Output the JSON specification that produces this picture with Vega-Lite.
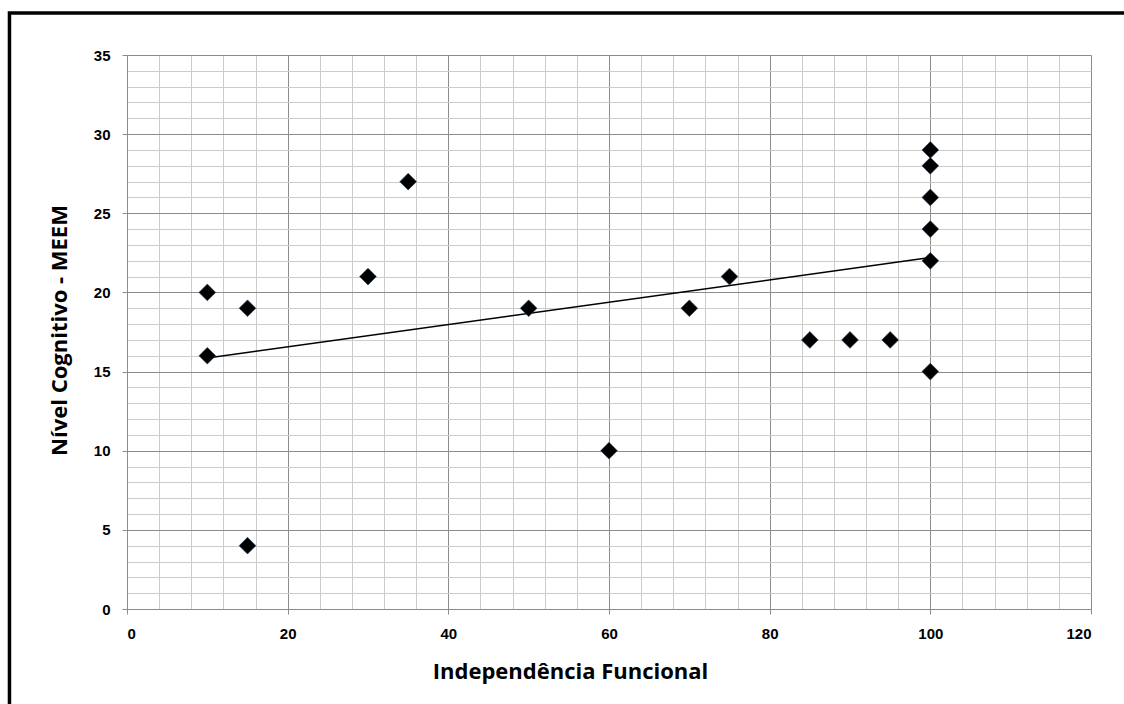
{
  "$schema": "https://vega.github.io/schema/vega-lite/v6.json",
  "width": 964,
  "height": 554,
  "autosize": "none",
  "padding": {"left": 127, "top": 55, "right": 33, "bottom": 95},
  "background": "white",
  "config": {"view": {"stroke": null}},
  "datasets": {
    "pts": [
      {"x": 10, "y": 20}, {"x": 10, "y": 16}, {"x": 15, "y": 19}, {"x": 15, "y": 4},
      {"x": 30, "y": 21}, {"x": 35, "y": 27}, {"x": 50, "y": 19}, {"x": 60, "y": 10},
      {"x": 70, "y": 19}, {"x": 75, "y": 21}, {"x": 85, "y": 17}, {"x": 90, "y": 17},
      {"x": 95, "y": 17}, {"x": 100, "y": 29}, {"x": 100, "y": 28}, {"x": 100, "y": 26},
      {"x": 100, "y": 24}, {"x": 100, "y": 22}, {"x": 100, "y": 15}
    ],
    "trend": [{"x": 10, "y": 15.86}, {"x": 100, "y": 22.2}],
    "frame": [{"x1": -14.63, "x2": 130, "y1": -10, "y2": 37.65}]
  },
  "resolve": {"axis": {"x": "independent", "y": "independent"}},
  "layer": [
    {
      "data": {"name": "frame"},
      "mark": {"type": "rect", "fill": null, "stroke": "black", "strokeWidth": 3.5, "clip": false},
      "encoding": {
        "x": {"field": "x1", "type": "quantitative", "scale": {"domain": [0, 120], "nice": false}, "axis": {"orient": "bottom", "values": [0,4,8,12,16,24,28,32,36,44,48,52,56,64,68,72,76,84,88,92,96,104,108,112,116], "grid": true, "gridColor": "#cccccc", "gridWidth": 1, "labels": false, "ticks": false, "domain": false, "title": null}},
        "x2": {"field": "x2"},
        "y": {"field": "y1", "type": "quantitative", "scale": {"domain": [0, 35], "nice": false}, "axis": {"orient": "left", "values": [1,2,3,4,6,7,8,9,11,12,13,14,16,17,18,19,21,22,23,24,26,27,28,29,31,32,33,34], "grid": true, "gridColor": "#cccccc", "gridWidth": 1, "labels": false, "ticks": false, "domain": false, "title": null}},
        "y2": {"field": "y2"}
      }
    },
    {
      "data": {"name": "trend"},
      "mark": {"type": "line", "color": "black", "strokeWidth": 1.5},
      "encoding": {
        "x": {"field": "x", "type": "quantitative", "axis": {"orient": "bottom", "values": [0,20,40,60,80,100,120], "grid": true, "gridColor": "#8c8c8c", "gridWidth": 1, "domainColor": "#8c8c8c", "tickColor": "#8c8c8c", "tickSize": 5, "labelFont": "Liberation Sans", "labelFontWeight": "bold", "labelFontSize": 15, "labelColor": "black", "labelPadding": 12, "title": "Independência Funcional", "titleFont": "Open Sans", "titleFontWeight": "bold", "titleFontSize": 22, "titleColor": "black", "titleBaseline": "middle", "titleX": 443, "titleY": 62}},
        "y": {"field": "y", "type": "quantitative", "axis": {"orient": "left", "values": [0,5,10,15,20,25,30,35], "grid": true, "gridColor": "#8c8c8c", "gridWidth": 1, "domainColor": "#8c8c8c", "tickColor": "#8c8c8c", "tickSize": 5, "labelFont": "Liberation Sans", "labelFontWeight": "bold", "labelFontSize": 15, "labelColor": "black", "labelPadding": 12, "title": "Nível Cognitivo - MEEM", "titleFont": "Open Sans", "titleFontWeight": "bold", "titleFontSize": 22, "titleColor": "black", "titleAngle": -90, "titleBaseline": "middle", "titleAlign": "center", "titleX": -68, "titleY": 275}}
      }
    },
    {
      "data": {"name": "pts"},
      "mark": {"type": "point", "shape": "diamond", "filled": true, "fill": "black", "stroke": "#1f3a5a", "strokeWidth": 0.6, "size": 280, "opacity": 1},
      "encoding": {
        "x": {"field": "x", "type": "quantitative", "axis": null},
        "y": {"field": "y", "type": "quantitative", "axis": null}
      }
    }
  ]
}
